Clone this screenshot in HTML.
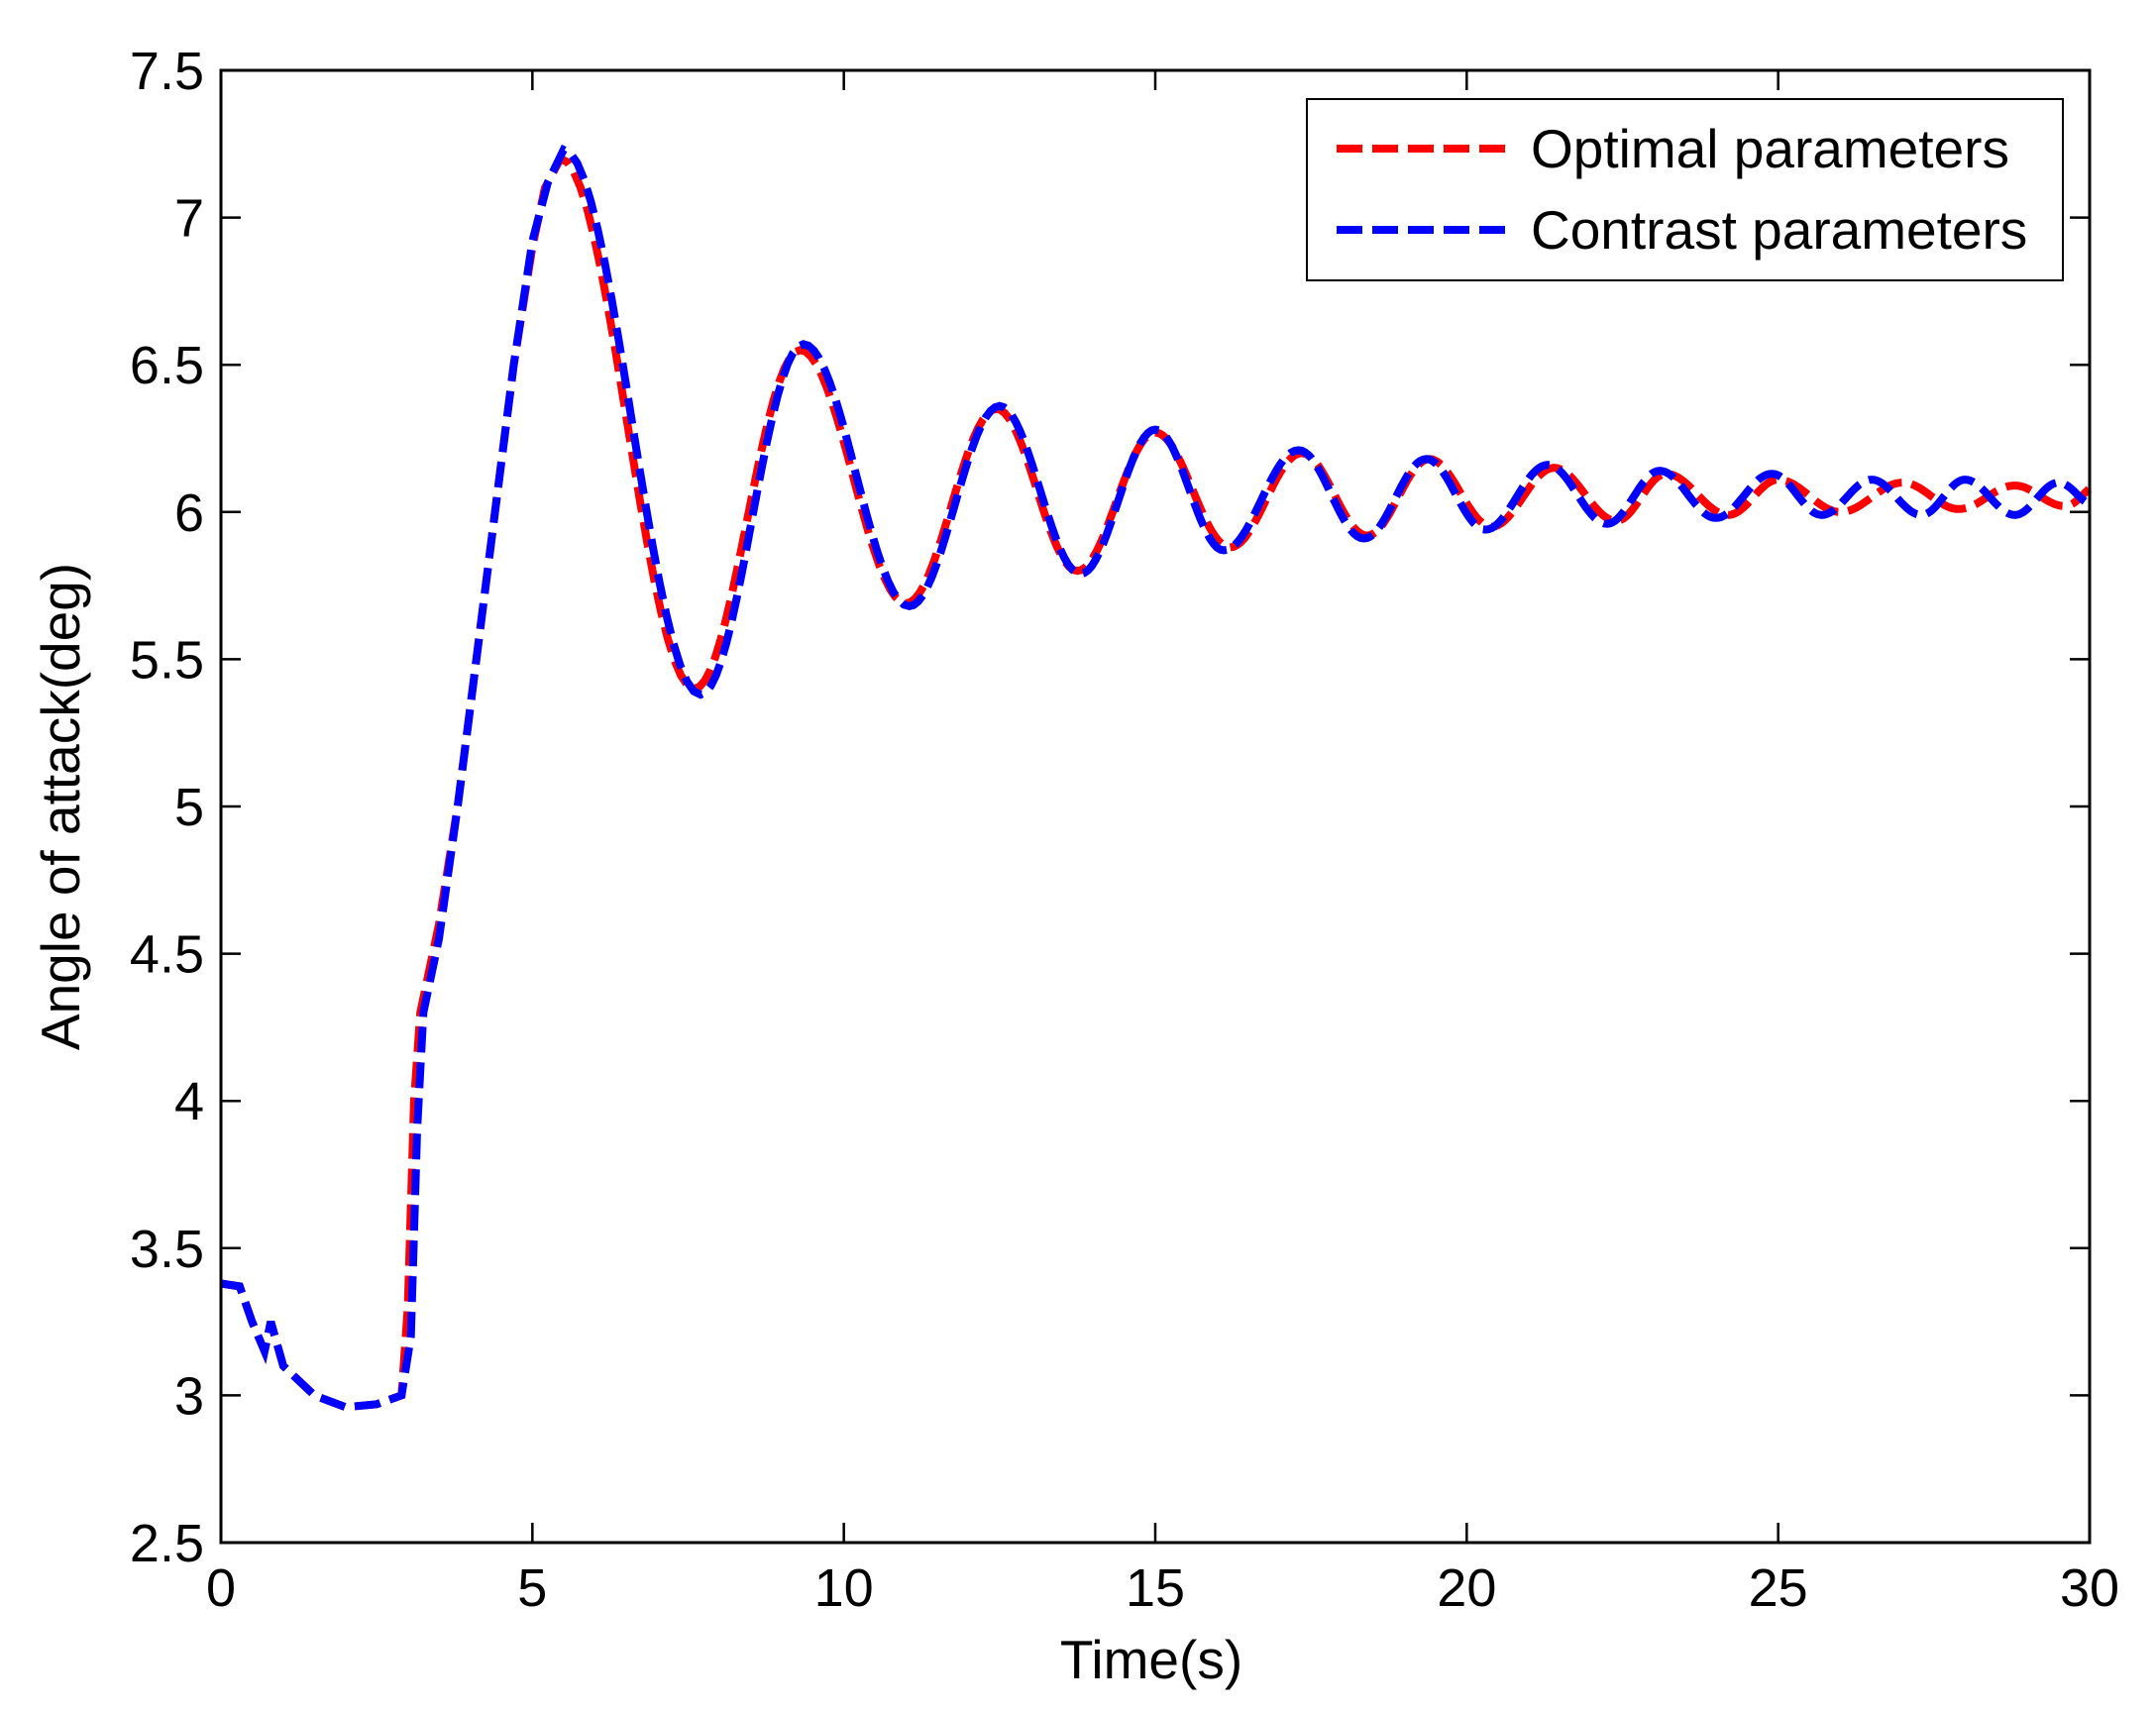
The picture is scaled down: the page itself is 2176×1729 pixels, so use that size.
<!DOCTYPE html>
<html><head><meta charset="utf-8"><style>
html,body{margin:0;padding:0;background:#fff;}
svg{display:block;}
text{font-family:"Liberation Sans",Arial,sans-serif;fill:#000;}
</style></head><body>
<svg id="s" width="2176" height="1729" viewBox="0 0 2176 1729" xmlns="http://www.w3.org/2000/svg">
<rect x="0" y="0" width="2176" height="1729" fill="#fff"/>
<g id="ticks" stroke="#000" stroke-width="2.5" fill="none"></g>
<g id="labels" font-size="54"></g>
<path id="red" fill="none" stroke="#ff0000" stroke-width="8" stroke-dasharray="26,10"/>
<path id="blue" fill="none" stroke="#0000ff" stroke-width="8" stroke-dasharray="26,10"/>
<rect x="223" y="71" width="1886" height="1486" fill="none" stroke="#000" stroke-width="3"/>
<rect x="1319" y="100" width="763" height="183" fill="#fff" stroke="#000" stroke-width="2"/>
<line x1="1349" y1="150" x2="1527" y2="150" stroke="#ff0000" stroke-width="8" stroke-dasharray="26,10"/>
<line x1="1349" y1="232" x2="1527" y2="232" stroke="#0000ff" stroke-width="8" stroke-dasharray="26,10"/>
<text x="1545" y="169" font-size="55">Optimal parameters</text>
<text x="1545" y="251" font-size="55">Contrast parameters</text>
<text x="1162" y="1694" font-size="55" text-anchor="middle">Time(s)</text>
<text transform="translate(80,814) rotate(-90)" font-size="55" text-anchor="middle">Angle of attack(deg)</text>
</svg>
<script>
var L=223,R=2109,T=71,B=1557;
function X(t){return L+(t/30)*(R-L);}
function Y(v){return B-(v-2.5)/5*(B-T);}
var tk=document.getElementById('ticks'),lb=document.getElementById('labels'),h='',l='';
for(var i=0;i<=6;i++){var x=X(i*5);h+='<line x1="'+x+'" y1="'+B+'" x2="'+x+'" y2="'+(B-20)+'"/><line x1="'+x+'" y1="'+T+'" x2="'+x+'" y2="'+(T+20)+'"/>';
l+='<text x="'+x+'" y="'+(B+64)+'" text-anchor="middle">'+(i*5)+'</text>';}
for(var j=0;j<=10;j++){var v=2.5+j*0.5,y=Y(v);h+='<line x1="'+L+'" y1="'+y+'" x2="'+(L+20)+'" y2="'+y+'"/><line x1="'+R+'" y1="'+y+'" x2="'+(R-20)+'" y2="'+y+'"/>';
l+='<text x="'+(L-17)+'" y="'+(y+19)+'" text-anchor="end">'+v+'</text>';}
tk.innerHTML=h;lb.innerHTML=l;
var early=[[0,3.38],[0.3,3.37],[0.5,3.25],[0.7,3.15],[0.8,3.25],[1.0,3.1],[1.5,3.0],[2.0,2.96],[2.5,2.97],[2.9,3.0]];
function build(rise,ext){
 var pts=[];early.forEach(function(p){pts.push(p);});
 rise.forEach(function(p){pts.push(p);});
 for(var k=0;k<ext.length-1;k++){var a=ext[k],b=ext[k+1];
  for(var s=(k==0?0:1);s<=20;s++){var f=s/20,t=a[0]+(b[0]-a[0])*f,v=a[1]+(b[1]-a[1])*(1-Math.cos(Math.PI*f))/2;if(t<=30)pts.push([t,v]);}}
 var d='';pts.forEach(function(p,i){d+=(i?'L':'M')+X(p[0]).toFixed(1)+','+Y(p[1]).toFixed(1);});return d;}
var redRise=[[3.0,3.3],[3.1,4.0],[3.2,4.3],[3.5,4.6],[3.8,5.0],[4.1,5.5],[4.4,6.0],[4.7,6.5],[5.0,6.9],[5.2,7.1]];
var blueRise=[[3.05,3.2],[3.15,3.9],[3.25,4.3],[3.5,4.55],[3.8,5.0],[4.1,5.5],[4.4,6.0],[4.7,6.5],[5.0,6.92],[5.25,7.12]];
var redExt=[[5.45,7.2],[7.6,5.4],[9.3,6.55],[11.0,5.69],[12.45,6.35],[13.75,5.8],[15.0,6.27],[16.2,5.88],[17.35,6.2],[18.4,5.92],[19.4,6.18],[20.4,5.95],[21.4,6.15],[22.4,5.97],[23.2,6.13],[24.2,5.99],[25.0,6.11],[26.0,6.0],[27.0,6.1],[27.9,6.01],[28.8,6.09],[29.6,6.02],[30.2,6.1]];
var blueExt=[[5.5,7.23],[7.7,5.38],[9.35,6.57],[11.05,5.68],[12.5,6.36],[13.8,5.79],[15.0,6.28],[16.1,5.87],[17.3,6.21],[18.35,5.91],[19.35,6.18],[20.3,5.94],[21.3,6.16],[22.25,5.96],[23.1,6.14],[24.0,5.98],[24.9,6.13],[25.7,5.99],[26.5,6.11],[27.3,5.99],[28.0,6.11],[28.8,5.99],[29.5,6.1],[30.1,6.02]];
document.getElementById('red').setAttribute('d',build(redRise,redExt));
document.getElementById('blue').setAttribute('d',build(blueRise,blueExt));
</script>
</body></html>
